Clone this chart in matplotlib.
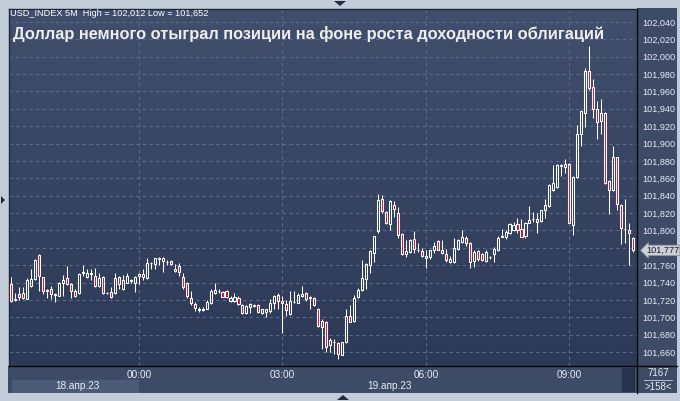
import matplotlib
matplotlib.use('Agg')
import numpy as np
import matplotlib.pyplot as plt
from matplotlib.colors import LinearSegmentedColormap
from matplotlib.patches import Rectangle, Polygon
from matplotlib.transforms import blended_transform_factory

plt.rcParams['font.family'] = ['Liberation Sans', 'DejaVu Sans']

# USD_INDEX, 5-minute candles, 21:15 (18 Apr) .. 10:20 (19 Apr)
opens = [
    101.740, 101.738, 101.720, 101.727, 101.728, 101.721, 101.736, 101.744, 101.772, 101.746,
    101.730, 101.732, 101.726, 101.725, 101.740, 101.745, 101.738, 101.730, 101.728, 101.751,
    101.746, 101.751, 101.748, 101.736, 101.746, 101.728, 101.729, 101.728, 101.746, 101.732,
    101.740, 101.742, 101.740, 101.748, 101.750, 101.745, 101.762, 101.761, 101.767, 101.768,
    101.764, 101.765, 101.753, 101.759, 101.746, 101.740, 101.722, 101.715, 101.708, 101.708,
    101.710, 101.716, 101.728, 101.730, 101.729, 101.730, 101.719, 101.719, 101.722, 101.714,
    101.705, 101.712, 101.713, 101.714, 101.705, 101.709, 101.707, 101.717, 101.726, 101.719,
    101.715, 101.704, 101.718, 101.717, 101.724, 101.728, 101.722, 101.722, 101.710, 101.696,
    101.695, 101.668, 101.671, 101.670, 101.657, 101.671, 101.701, 101.696, 101.723, 101.731,
    101.744, 101.760, 101.774, 101.799, 101.836, 101.821, 101.807, 101.829, 101.820, 101.796,
    101.773, 101.775, 101.790, 101.778, 101.776, 101.768, 101.769, 101.777, 101.788, 101.777,
    101.773, 101.764, 101.764, 101.779, 101.787, 101.791, 101.786, 101.765, 101.776, 101.773,
    101.765, 101.769, 101.773, 101.777, 101.792, 101.792, 101.797, 101.801, 101.807, 101.802,
    101.793, 101.809, 101.813, 101.813, 101.811, 101.823, 101.828, 101.847, 101.850, 101.874,
    101.873, 101.877, 101.806, 101.861, 101.911, 101.935, 101.984, 101.965, 101.940, 101.926,
    101.935, 101.857, 101.846, 101.884, 101.829, 101.802, 101.801, 101.791,
]
highs = [
    101.750, 101.746, 101.728, 101.735, 101.735, 101.745, 101.755, 101.767, 101.773, 101.746,
    101.732, 101.736, 101.728, 101.741, 101.749, 101.759, 101.739, 101.732, 101.751, 101.760,
    101.756, 101.755, 101.757, 101.751, 101.747, 101.729, 101.735, 101.751, 101.747, 101.749,
    101.751, 101.744, 101.747, 101.751, 101.755, 101.768, 101.764, 101.768, 101.769, 101.769,
    101.766, 101.766, 101.761, 101.762, 101.751, 101.741, 101.730, 101.718, 101.712, 101.712,
    101.720, 101.732, 101.739, 101.732, 101.730, 101.731, 101.724, 101.728, 101.724, 101.715,
    101.714, 101.716, 101.715, 101.715, 101.710, 101.710, 101.721, 101.726, 101.728, 101.724,
    101.720, 101.730, 101.730, 101.728, 101.736, 101.729, 101.724, 101.723, 101.711, 101.698,
    101.696, 101.676, 101.675, 101.671, 101.672, 101.710, 101.714, 101.726, 101.734, 101.766,
    101.762, 101.777, 101.794, 101.842, 101.841, 101.822, 101.835, 101.834, 101.827, 101.797,
    101.789, 101.790, 101.799, 101.785, 101.780, 101.778, 101.778, 101.787, 101.789, 101.789,
    101.779, 101.771, 101.791, 101.790, 101.800, 101.793, 101.787, 101.778, 101.777, 101.774,
    101.777, 101.770, 101.781, 101.793, 101.802, 101.800, 101.809, 101.810, 101.814, 101.813,
    101.810, 101.828, 101.821, 101.820, 101.823, 101.836, 101.854, 101.875, 101.876, 101.877,
    101.882, 101.878, 101.863, 101.921, 101.939, 101.987, 102.012, 101.974, 101.949, 101.951,
    101.936, 101.858, 101.897, 101.885, 101.830, 101.836, 101.809, 101.792,
]
lows = [
    101.734, 101.718, 101.719, 101.720, 101.721, 101.721, 101.735, 101.743, 101.730, 101.727,
    101.722, 101.721, 101.718, 101.725, 101.724, 101.737, 101.722, 101.723, 101.727, 101.747,
    101.745, 101.743, 101.735, 101.735, 101.727, 101.727, 101.722, 101.727, 101.732, 101.731,
    101.739, 101.740, 101.729, 101.738, 101.743, 101.744, 101.755, 101.756, 101.760, 101.752,
    101.760, 101.760, 101.752, 101.747, 101.733, 101.722, 101.714, 101.707, 101.706, 101.707,
    101.709, 101.715, 101.727, 101.728, 101.723, 101.722, 101.718, 101.718, 101.714, 101.704,
    101.704, 101.705, 101.712, 101.705, 101.704, 101.700, 101.705, 101.709, 101.709, 101.682,
    101.702, 101.703, 101.716, 101.716, 101.723, 101.719, 101.709, 101.713, 101.689, 101.663,
    101.660, 101.660, 101.658, 101.652, 101.656, 101.670, 101.694, 101.695, 101.722, 101.730,
    101.732, 101.751, 101.764, 101.797, 101.820, 101.807, 101.801, 101.816, 101.791, 101.772,
    101.769, 101.774, 101.774, 101.775, 101.769, 101.757, 101.767, 101.774, 101.777, 101.773,
    101.764, 101.762, 101.763, 101.778, 101.785, 101.782, 101.757, 101.758, 101.765, 101.765,
    101.764, 101.767, 101.764, 101.776, 101.792, 101.790, 101.796, 101.799, 101.797, 101.792,
    101.791, 101.808, 101.810, 101.797, 101.810, 101.814, 101.827, 101.845, 101.849, 101.863,
    101.866, 101.808, 101.795, 101.860, 101.897, 101.919, 101.962, 101.929, 101.905, 101.911,
    101.853, 101.819, 101.845, 101.823, 101.784, 101.785, 101.760, 101.775,
]
closes = [
    101.745, 101.719, 101.721, 101.723, 101.722, 101.743, 101.744, 101.766, 101.747, 101.730,
    101.731, 101.727, 101.727, 101.740, 101.743, 101.738, 101.730, 101.725, 101.750, 101.752,
    101.751, 101.750, 101.736, 101.745, 101.728, 101.728, 101.723, 101.745, 101.738, 101.743,
    101.748, 101.743, 101.746, 101.750, 101.746, 101.762, 101.762, 101.768, 101.768, 101.765,
    101.764, 101.761, 101.755, 101.752, 101.735, 101.724, 101.716, 101.711, 101.710, 101.710,
    101.718, 101.730, 101.731, 101.730, 101.723, 101.723, 101.722, 101.723, 101.715, 101.705,
    101.713, 101.715, 101.714, 101.706, 101.709, 101.706, 101.716, 101.725, 101.719, 101.716,
    101.708, 101.719, 101.718, 101.726, 101.727, 101.721, 101.723, 101.714, 101.690, 101.689,
    101.666, 101.674, 101.672, 101.658, 101.671, 101.702, 101.695, 101.722, 101.731, 101.745,
    101.761, 101.776, 101.793, 101.835, 101.822, 101.808, 101.834, 101.825, 101.795, 101.773,
    101.776, 101.789, 101.779, 101.777, 101.771, 101.771, 101.777, 101.782, 101.778, 101.774,
    101.766, 101.767, 101.780, 101.789, 101.792, 101.786, 101.764, 101.775, 101.767, 101.766,
    101.775, 101.769, 101.779, 101.791, 101.793, 101.798, 101.807, 101.806, 101.800, 101.792,
    101.808, 101.812, 101.813, 101.810, 101.823, 101.829, 101.852, 101.855, 101.875, 101.875,
    101.877, 101.809, 101.861, 101.911, 101.937, 101.983, 101.964, 101.940, 101.925, 101.935,
    101.855, 101.846, 101.884, 101.830, 101.803, 101.802, 101.797, 101.777,
]

time_ticks = [33, 69, 105, 141]          # candle index of each time label
time_labels = ['00:00', '03:00', '06:00', '09:00']
price_ticks = np.round(np.arange(101.660, 102.041, 0.020), 3)
bars_count = '7167'
bars_visible = '>158<'
title = 'Доллар немного отыграл позиции на фоне роста доходности облигаций'

W, H = 680, 401


def fx(px):
    return px / W


def fy(py):
    return 1 - py / H


def comma(v):
    return f'{v:.3f}'.replace('.', ',')


fig = plt.figure(figsize=(W / 100, H / 100), dpi=100, facecolor='#c3cdd9')

# panels behind the chart
panel = '#3d4b66'
fig.patches.append(Rectangle((fx(8), fy(393)), (677 - 8) / W, (393 - 366) / H,
                             transform=fig.transFigure, fc=panel, ec='none', zorder=-2))
fig.patches.append(Rectangle((fx(637), fy(393)), (677 - 637) / W, (393 - 8) / H,
                             transform=fig.transFigure, fc=panel, ec='none', zorder=-2))
fig.patches.append(Rectangle((fx(12), fy(392.5)), (139 - 12) / W, 12.5 / H,
                             transform=fig.transFigure, fc='#4b5a76', ec='none', zorder=-1))
fig.patches.append(Rectangle((fx(622), fy(392)), 13 / W, 24 / H,
                             transform=fig.transFigure, fc='#27344d', ec='none', zorder=-1))

ax = fig.add_axes([fx(9), fy(366), (637 - 9) / W, (366 - 9) / H])
xlim = (0.43, 157.98)
ylim = (101.6439, 102.0549)

grad = np.linspace(0, 1, 256).reshape(-1, 1)
cmap = LinearSegmentedColormap.from_list('bg', ['#414f6c', '#2c3a58'])
ax.imshow(grad, extent=[*xlim, *ylim], cmap=cmap, aspect='auto', zorder=0)

for p in price_ticks:
    ax.axhline(p, color='#596a8c', lw=0.8, ls=(0, (3, 3)), zorder=1)
for t in time_ticks:
    ax.axvline(t, color='#596a8c', lw=0.8, ls=(0, (3, 3)), zorder=1)

# candles
w = 0.52
for i, (o, h, l, c) in enumerate(zip(opens, highs, lows, closes)):
    top, bot = max(o, c), min(o, c)
    ax.vlines(i, top, h, color='white', lw=0.75, zorder=3)
    ax.vlines(i, l, bot, color='white', lw=0.75, zorder=3)
    fc = '#e0102e' if c < o else 'none'
    ax.add_patch(Rectangle((i - w / 2, bot), w, top - bot, fc=fc, ec='white',
                           lw=0.75, zorder=4))

# last price marker (it hides the tick label it sits on)
last = closes[-1]
ax.set_xlim(*xlim)
ax.set_ylim(*ylim)
ax.set_xticks([])
ax.yaxis.tick_right()
ax.set_yticks(price_ticks)
ax.set_yticklabels(['' if abs(p - last) < 0.008 else comma(p) for p in price_ticks])
ax.tick_params(axis='y', length=0, pad=4, labelsize=6.6, labelcolor='#e6ebf2')
for side in ['left', 'top']:
    ax.spines[side].set_color('#1e2738')
for side in ['right', 'bottom']:
    ax.spines[side].set_color('#0a0a0a')
for s in ax.spines.values():
    s.set_linewidth(1)

tr = blended_transform_factory(ax.transAxes, ax.transData)
ax.text(1 + 9 / 628, last, comma(last), transform=tr, ha='left', va='center',
        fontsize=6.6, color='#1c1c1c', zorder=6, clip_on=False,
        bbox=dict(boxstyle='larrow,pad=0.08', fc='#cdd1d7', ec='#8b929c', lw=0.6))

# black line running under the right panel too
fig.add_artist(plt.Line2D([fx(637), fx(677)], [fy(366), fy(366)], color='#0a0a0a', lw=1))
fig.add_artist(plt.Line2D([fx(637), fx(637)], [fy(366), fy(393)], color='#0a0a0a', lw=1))

# time axis
tx = blended_transform_factory(ax.transData, fig.transFigure)
for t, lab in zip(time_ticks, time_labels):
    fig.text(0, fy(374.5), lab, transform=tx, ha='center', va='center',
             fontsize=7.2, color='#e8edf4')
    fig.texts[-1].set_x(t)
fig.text(fx(77), fy(386), '18.апр.23', ha='center', va='center', fontsize=7.2, color='#e8edf4')
fig.text(fx(390), fy(386), '19.апр.23', ha='center', va='center', fontsize=7.2, color='#e8edf4')

# corner box
fig.text(fx(658), fy(372.5), bars_count, ha='center', va='center', fontsize=7, color='#e8edf4')
fig.add_artist(plt.Line2D([fx(644), fx(672)], [fy(380), fy(380)], color='#c9d1dc', lw=0.6))
fig.text(fx(658), fy(387), bars_visible, ha='center', va='center', fontsize=7, color='#e8edf4')

# header texts
info = f'USD_INDEX 5M  High = {comma(max(highs))} Low = {comma(min(lows))}'
fig.text(fx(10), fy(14), info, ha='left', va='center', fontsize=6.6, color='white')
fig.text(fx(13), fy(34), title, ha='left', va='center', fontsize=11.8,
         fontweight='bold', color='#eeeeee')

# little frame arrows
tri = '#232c3c'
for pts in ([(334, 1), (346, 1), (340, 6)],
            [(1, 196), (1, 204), (5, 200)],
            [(337, 400), (349, 400), (343, 395)]):
    fig.patches.append(Polygon([(fx(a), fy(b)) for a, b in pts], closed=True,
                               transform=fig.transFigure, fc=tri, ec='none'))

fig.savefig('out.png', dpi=100, facecolor=fig.get_facecolor())
